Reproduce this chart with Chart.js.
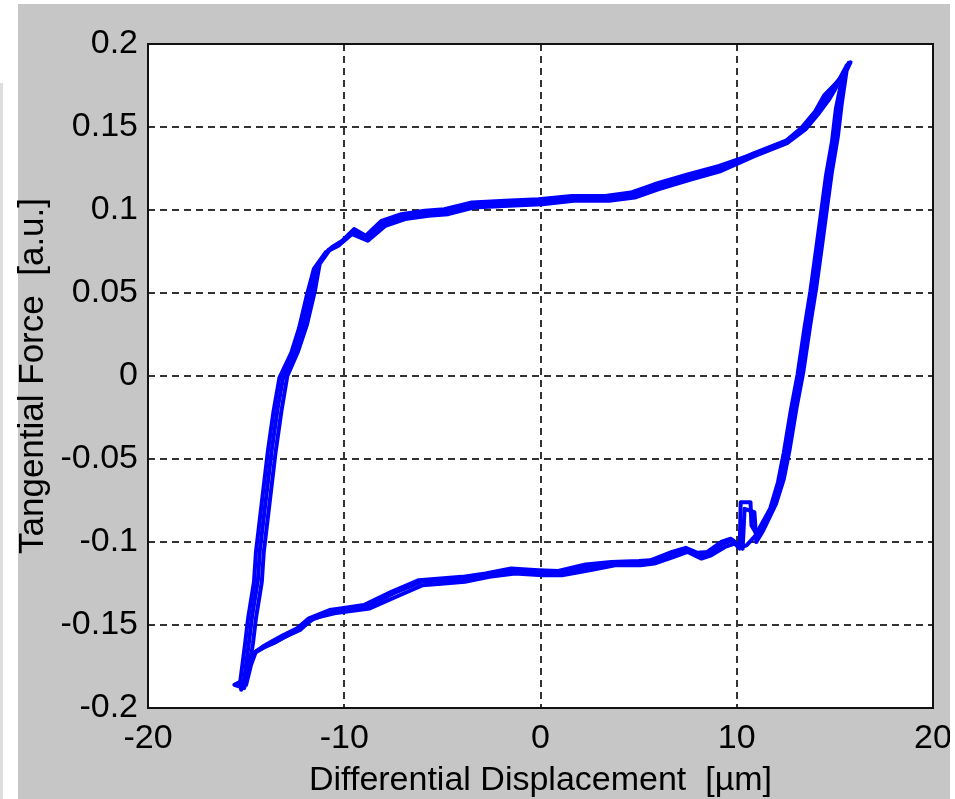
<!DOCTYPE html>
<html>
<head>
<meta charset="utf-8">
<title>Tangential force vs differential displacement</title>
<script src="https://cdn.jsdelivr.net/npm/chart.js@4.4.1/dist/chart.umd.min.js"></script>
<style>
  html, body { margin: 0; padding: 0; background: #ffffff; }
  canvas { display: block; }
</style>
</head>
<body>
<canvas id="loop" width="955" height="799"></canvas>
<script>
// Fretting loop: three recorded cycles of tangential force against displacement
const cycleAX = [-15.1,-14.85,-14.6,-14.0,-13.6,-13.0,-12.25,-11.7,-10.6,-10.1,-8.85,-7.5,-6.1,-5.0,-3.95,-2.7,-1.4,0.0,1.0,2.4,3.7,5.07,5.7,6.75,7.46,8.1,8.6,9.3,9.8,10.2,10.5,11.2,11.85,12.25,12.55,12.9,13.25,13.6,13.9,14.2,14.45,14.7,15.0,15.2,15.5,15.7,15.3,14.9,14.6,14.1,13.4,12.55,10.83,9.15,7.6,5.9,4.7,3.4,1.65,0.0,-1.7,-3.44,-4.8,-5.8,-7.0,-8.0,-8.85,-9.6,-10.2,-10.8,-11.4,-11.7,-12.1,-12.5,-13.1,-13.4,-13.7,-14.0,-14.3,-14.4,-14.7,-14.85,-15.1,-15.6,-15.1];
const cycleAY = [-0.188,-0.176,-0.167,-0.163,-0.161,-0.157,-0.153,-0.147,-0.142,-0.141,-0.139,-0.131,-0.124,-0.123,-0.123,-0.120,-0.117,-0.118,-0.119,-0.115,-0.113,-0.113,-0.112,-0.107,-0.105,-0.108,-0.107,-0.101,-0.099,-0.103,-0.102,-0.093,-0.078,-0.063,-0.045,-0.020,0.002,0.030,0.052,0.078,0.100,0.122,0.142,0.162,0.1825,0.1886,0.180,0.174,0.168,0.160,0.150,0.142,0.134,0.125,0.120,0.114,0.109,0.107,0.107,0.105,0.104,0.103,0.099,0.098,0.096,0.092,0.083,0.087,0.080,0.076,0.066,0.050,0.030,0.015,0.000,-0.020,-0.045,-0.075,-0.105,-0.123,-0.145,-0.160,-0.183,-0.186,-0.188];

const cycleBX = [-15.0,-14.75,-14.5,-13.9,-13.45,-12.85,-12.1,-11.55,-10.5,-9.95,-8.7,-7.35,-6.0,-4.9,-3.85,-2.6,-1.3,0.1,1.1,2.5,3.8,5.1,5.8,6.8,7.5,8.2,8.7,9.4,9.9,10.15,10.2,10.7,10.75,11.0,11.7,12.1,12.4,12.75,13.1,13.45,13.75,14.05,14.3,14.55,14.85,15.05,15.4,15.6,15.2,14.7,14.45,14.0,13.3,12.5,10.8,9.1,7.5,5.8,4.6,3.3,1.6,-0.1,-1.8,-3.5,-4.9,-5.9,-7.1,-8.1,-8.9,-9.5,-10.1,-10.65,-11.25,-11.5,-11.9,-12.35,-12.9,-13.2,-13.5,-13.8,-14.1,-14.2,-14.5,-14.65,-14.9,-15.0];
const cycleBY = [-0.186,-0.174,-0.166,-0.162,-0.160,-0.156,-0.151,-0.146,-0.143,-0.142,-0.140,-0.133,-0.126,-0.125,-0.124,-0.121,-0.119,-0.120,-0.120,-0.117,-0.114,-0.114,-0.113,-0.109,-0.106,-0.110,-0.108,-0.103,-0.101,-0.104,-0.076,-0.076,-0.090,-0.095,-0.080,-0.064,-0.046,-0.021,0.001,0.029,0.051,0.077,0.099,0.121,0.141,0.161,0.181,0.187,0.178,0.172,0.169,0.1595,0.1495,0.1415,0.1335,0.1265,0.1215,0.1155,0.1105,0.1085,0.1085,0.1065,0.1055,0.1045,0.1005,0.0995,0.0975,0.0935,0.0845,0.0885,0.0815,0.0775,0.0675,0.051,0.031,0.015,0.000,-0.021,-0.046,-0.076,-0.106,-0.124,-0.146,-0.161,-0.180,-0.186];

const cycleCX = [-15.25,-14.95,-14.75,-14.15,-13.7,-13.1,-12.4,-11.8,-10.75,-10.2,-9.0,-7.6,-6.2,-5.1,-4.0,-2.8,-1.5,-0.1,0.9,2.3,3.6,5.0,5.6,6.7,7.4,8.0,8.5,9.2,9.7,10.3,10.4,10.9,11.0,11.35,12.0,12.4,12.7,13.05,13.4,13.75,14.05,14.35,14.6,14.85,15.15,15.35,15.6,15.8,15.4,15.0,14.7,14.2,13.5,12.6,10.9,9.2,7.7,6.0,4.8,3.5,1.7,0.1,-1.6,-3.4,-4.7,-5.7,-6.9,-7.9,-8.8,-9.6,-10.3,-10.95,-11.55,-11.9,-12.3,-12.7,-13.3,-13.6,-13.9,-14.2,-14.5,-14.6,-14.9,-15.05,-15.3,-15.25];
const cycleCY = [-0.189,-0.179,-0.168,-0.163,-0.160,-0.156,-0.152,-0.146,-0.141,-0.140,-0.138,-0.130,-0.123,-0.122,-0.121,-0.119,-0.116,-0.117,-0.1175,-0.1135,-0.112,-0.1115,-0.111,-0.106,-0.1035,-0.1065,-0.106,-0.100,-0.098,-0.104,-0.080,-0.082,-0.100,-0.093,-0.077,-0.062,-0.044,-0.019,0.003,0.031,0.053,0.079,0.101,0.123,0.144,0.164,0.184,0.189,0.181,0.1725,0.1665,0.1585,0.1485,0.1405,0.1325,0.1235,0.1185,0.1125,0.1075,0.1055,0.1055,0.1035,0.1025,0.1015,0.0975,0.0965,0.0945,0.0905,0.0815,0.0855,0.0785,0.0745,0.0645,0.049,0.029,0.014,-0.001,-0.021,-0.046,-0.076,-0.106,-0.124,-0.146,-0.161,-0.184,-0.189];

const xTickLabels = ['-20', '-10', '0', '10', '20'];
const yTickLabels = ['-0.2', '-0.15', '-0.1', '-0.05', '0', '0.05', '0.1', '0.15', '0.2'];

const cycles = [[cycleAX, cycleAY], [cycleBX, cycleBY], [cycleCX, cycleCY]];

function toPoints(xs, ys) {
  return xs.map((x, i) => ({ x: x, y: ys[i] }));
}

const FONT = "'Liberation Sans', Arial, Helvetica, sans-serif";
Chart.defaults.font.family = FONT;
Chart.defaults.color = '#000000';

// figure background, white axes box, frame on top
const figureFrame = {
  id: 'figureFrame',
  beforeDraw(chart) {
    const { ctx, chartArea: a, width, height } = chart;
    ctx.save();
    ctx.fillStyle = '#ffffff';
    ctx.fillRect(0, 0, width, height);
    ctx.fillStyle = '#dddddd';
    ctx.fillRect(0, 83, 3, height - 83);
    ctx.fillStyle = '#c6c6c6';
    ctx.fillRect(18, 4, 932, height - 4);
    ctx.fillStyle = '#ffffff';
    ctx.fillRect(a.left, a.top, a.right - a.left, a.bottom - a.top);
    ctx.restore();
  },
  afterDraw(chart) {
    const { ctx, chartArea: a, width, height } = chart;
    ctx.save();
    ctx.strokeStyle = '#111111';
    ctx.lineWidth = 2;
    ctx.strokeRect(a.left, a.top, a.right - a.left, a.bottom - a.top);
    ctx.fillStyle = '#ffffff';
    ctx.fillRect(950, 0, width - 950, height);
    ctx.restore();
  }
};

new Chart(document.getElementById('loop'), {
  type: 'scatter',
  data: {
    datasets: cycles.map(([xs, ys]) => ({
      data: toPoints(xs, ys),
      showLine: true,
      borderColor: '#0000ff',
      borderWidth: 4,
      borderJoinStyle: 'round',
      borderCapStyle: 'round',
      pointRadius: 0,
      tension: 0,
      fill: false
    }))
  },
  options: {
    responsive: false,
    animation: false,
    devicePixelRatio: 1,
    layout: { padding: { left: 0, top: 44, right: 22, bottom: 0 } },
    plugins: {
      legend: { display: false },
      tooltip: { enabled: false }
    },
    scales: {
      x: {
        type: 'linear',
        min: -20,
        max: 20,
        afterFit(scale) {
          scale.height = 91;
          scale.paddingLeft = 0;
          scale.paddingRight = 0;
        },
        afterBuildTicks(scale) {
          scale.ticks = xTickLabels.map(t => ({ value: Number(t) }));
        },
        ticks: {
          padding: 10,
          maxRotation: 0,
          autoSkip: false,
          font: { size: 34 },
          color: '#000000',
          callback: (v, i) => xTickLabels[i]
        },
        grid: { color: '#333333', lineWidth: 2, drawTicks: false },
        border: { display: false, dash: [7, 5] },
        title: {
          display: true,
          text: 'Differential Displacement  [\u00b5m]',
          font: { size: 34, lineHeight: 1 },
          color: '#000000',
          padding: { top: 0, bottom: 1 }
        }
      },
      y: {
        type: 'linear',
        min: -0.2,
        max: 0.2,
        afterFit(scale) { scale.width = 148; },
        afterBuildTicks(scale) {
          scale.ticks = yTickLabels.map(t => ({ value: Number(t) }));
        },
        ticks: {
          padding: 10,
          autoSkip: false,
          font: { size: 34 },
          color: '#000000',
          callback: (v, i) => yTickLabels[i]
        },
        grid: { color: '#333333', lineWidth: 2, drawTicks: false },
        border: { display: false, dash: [7, 5] },
        title: {
          display: true,
          text: 'Tangential Force  [a.u.]',
          font: { size: 35, lineHeight: 1 },
          color: '#000000',
          padding: { top: 16, bottom: 0 }
        }
      }
    }
  },
  plugins: [figureFrame]
});
</script>
</body>
</html>
